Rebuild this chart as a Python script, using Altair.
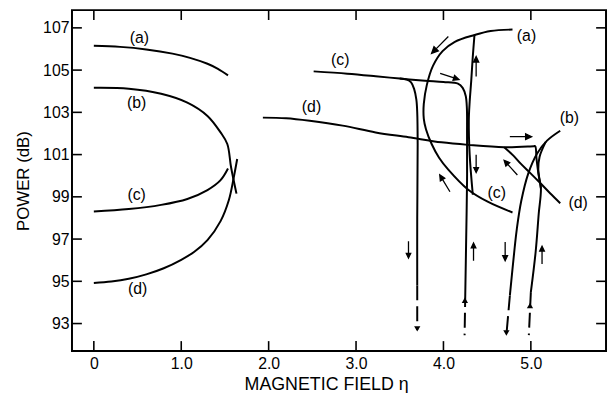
import altair as alt
import pandas as pd

# ---------------- data ----------------
# left-hand branches
A_L_X = [0.0, 0.3, 0.6, 0.9, 1.1, 1.3, 1.42, 1.535]
A_L_Y = [106.15, 106.10, 105.98, 105.78, 105.58, 105.30, 105.06, 104.75]
B_L_X = [0.0, 0.4, 0.77, 1.07, 1.3, 1.45, 1.527, 1.57, 1.632]
B_L_Y = [104.16, 104.12, 103.88, 103.46, 102.83, 102.05, 101.5, 100.4, 99.15]
C_L_X = [0.0, 0.4, 0.77, 1.07, 1.3, 1.45, 1.535]
C_L_Y = [98.31, 98.42, 98.62, 98.90, 99.32, 99.79, 100.34]
D_L_X = [0.0, 0.2, 0.4, 0.6, 0.8, 1.0, 1.15, 1.3, 1.45, 1.545, 1.6, 1.64]
D_L_Y = [94.92, 94.99, 95.12, 95.33, 95.62, 96.02, 96.4, 96.95, 97.85, 98.85, 99.9, 100.79]

# right-hand branches
A_ARC_X = [4.79, 4.54, 4.355, 4.13, 3.99, 3.88, 3.81, 3.775, 3.775, 3.80, 3.865, 3.95, 4.053, 4.28, 4.506, 4.79]
A_ARC_Y = [106.92, 106.85, 106.66, 106.34, 105.90, 105.20, 104.30, 103.40, 102.70, 102.20, 101.50, 100.85, 100.30, 99.35, 98.77, 98.26]
A_DROP_X = [4.355, 4.335, 4.318, 4.30, 4.29, 4.30, 4.336]
A_DROP_Y = [106.66, 105.6, 104.5, 103.5, 102.6, 101.0, 99.1]
C_R_X = [2.515, 2.9, 3.224, 3.5, 3.79, 4.0, 4.166, 4.22, 4.255, 4.268, 4.27, 4.27, 4.26, 4.25]
C_R_Y = [104.94, 104.83, 104.71, 104.6, 104.5, 104.44, 104.36, 104.16, 103.77, 103.2, 102.0, 99.8, 97.0, 94.49]
C_R_DASH_X = [4.25, 4.242]
C_R_DASH_Y = [94.49, 92.45]
C_BR_X = [3.5, 3.58, 3.63, 3.665, 3.69, 3.70, 3.705, 3.70, 3.70]
C_BR_Y = [104.6, 104.55, 104.42, 104.1, 103.6, 103.0, 101.5, 98.0, 94.8]
C_BR_DASH_X = [3.70, 3.70]
C_BR_DASH_Y = [94.8, 92.7]
D_R_X = [1.934, 2.2, 2.47, 2.847, 3.224, 3.6, 3.978, 4.28, 4.695, 5.034, 5.05, 5.065, 5.09, 5.115, 5.09, 5.055, 5.0]
D_R_Y = [102.75, 102.72, 102.6, 102.37, 102.05, 101.82, 101.58, 101.46, 101.35, 101.4, 101.4, 100.8, 100.0, 99.4, 98.2, 96.4, 94.49]
D_R_DASH_X = [5.0, 4.977]
D_R_DASH_Y = [94.49, 92.45]
D_DIAG_X = [4.695, 4.80, 4.884, 5.0, 5.11, 5.22, 5.336]
D_DIAG_Y = [101.35, 100.95, 100.57, 100.1, 99.64, 99.17, 98.7]
B_R_X = [5.336, 5.185, 5.07, 4.97, 4.89, 4.84, 4.815, 4.76]
B_R_Y = [102.13, 101.66, 101.04, 100.1, 98.8, 97.5, 96.6, 94.33]
B_R_DASH_X = [4.76, 4.72]
B_R_DASH_Y = [94.33, 92.45]
B_LOOP_X = [5.17, 5.10, 5.085, 5.10, 5.115]
B_LOOP_Y = [101.6, 100.9, 100.3, 99.8, 99.4]

# direction arrows
ARROW_X = [3.96, 4.07, 4.374, 4.374, 4.016, 4.77, 4.884, 3.60, 4.344, 4.706, 5.128]
ARROW_Y = [106.19, 104.7, 105.17, 100.57, 99.64, 100.38, 101.85, 96.5, 96.39, 96.42, 96.24]
ARROW_ANGLE = [225, 108, 0, 180, 329, 318, 90, 180, 0, 180, 0]
ARROW_LEN = [24, 20, 20, 18, 20, 20, 22, 17, 18, 19, 18]

# arrow heads at the ends of the dashed lines
HEAD_X = [3.70, 4.245, 4.72, 4.99]
HEAD_Y = [92.75, 94.1, 92.55, 93.85]
HEAD_ANGLE = [180, 0, 180, 0]

# curve labels
LABEL_TEXT = ["(a)", "(b)", "(c)", "(d)", "(c)", "(d)", "(a)", "(b)", "(c)", "(d)"]
LABEL_X = [0.52, 0.49, 0.49, 0.50, 2.82, 2.49, 4.95, 5.44, 4.61, 5.54]
LABEL_Y = [106.5, 103.46, 99.09, 94.61, 105.49, 103.25, 106.61, 102.73, 99.17, 98.7]

X_TICKS = [0, 1, 2, 3, 4, 5]
Y_TICKS = [93, 95, 97, 99, 101, 103, 105, 107]
X_DOMAIN = [-0.25, 5.86]
Y_DOMAIN = [91.70, 107.84]

W, H = 540, 344.7
TICK = 10  # inward tick length in pixels

# ---------------- tables ----------------
solid = [
    ("aL", A_L_X, A_L_Y), ("bL", B_L_X, B_L_Y), ("cL", C_L_X, C_L_Y), ("dL", D_L_X, D_L_Y),
    ("aArc", A_ARC_X, A_ARC_Y), ("aDrop", A_DROP_X, A_DROP_Y), ("cR", C_R_X, C_R_Y),
    ("cBr", C_BR_X, C_BR_Y), ("dR", D_R_X, D_R_Y), ("dDiag", D_DIAG_X, D_DIAG_Y),
    ("bR", B_R_X, B_R_Y), ("bLoop", B_LOOP_X, B_LOOP_Y),
]
dashed = [
    ("cRd", C_R_DASH_X, C_R_DASH_Y), ("cBrd", C_BR_DASH_X, C_BR_DASH_Y),
    ("dRd", D_R_DASH_X, D_R_DASH_Y), ("bRd", B_R_DASH_X, B_R_DASH_Y),
]


def table(curves):
    rows = []
    for name, xs, ys in curves:
        for i, (x, y) in enumerate(zip(xs, ys)):
            rows.append({"curve": name, "order": i, "x": x, "y": y})
    return pd.DataFrame(rows)


# frame ticks, built from the tick values and the axis ranges
dx = TICK * (X_DOMAIN[1] - X_DOMAIN[0]) / W
dy = TICK * (Y_DOMAIN[1] - Y_DOMAIN[0]) / H
tick_rows = []
for t in X_TICKS:
    tick_rows += [{"curve": f"b{t}", "order": 0, "x": t, "y": Y_DOMAIN[0]},
                  {"curve": f"b{t}", "order": 1, "x": t, "y": Y_DOMAIN[0] + dy},
                  {"curve": f"t{t}", "order": 0, "x": t, "y": Y_DOMAIN[1]},
                  {"curve": f"t{t}", "order": 1, "x": t, "y": Y_DOMAIN[1] - dy}]
for t in Y_TICKS:
    tick_rows += [{"curve": f"l{t}", "order": 0, "x": X_DOMAIN[0], "y": t},
                  {"curve": f"l{t}", "order": 1, "x": X_DOMAIN[0] + dx, "y": t},
                  {"curve": f"r{t}", "order": 0, "x": X_DOMAIN[1], "y": t},
                  {"curve": f"r{t}", "order": 1, "x": X_DOMAIN[1] - dx, "y": t}]
tick_df = pd.DataFrame(tick_rows)

solid_df = table(solid)
dashed_df = table(dashed)
arrow_df = pd.DataFrame({"x": ARROW_X, "y": ARROW_Y, "angle": ARROW_ANGLE,
                         "size": [l * l for l in ARROW_LEN]})
head_df = pd.DataFrame({"x": HEAD_X, "y": HEAD_Y, "angle": HEAD_ANGLE})
label_df = pd.DataFrame({"x": LABEL_X, "y": LABEL_Y, "t": LABEL_TEXT})

FONT = "Liberation Sans"
xs = alt.Scale(domain=X_DOMAIN, nice=False, zero=False)
ys = alt.Scale(domain=Y_DOMAIN, nice=False, zero=False)

X_AXIS = alt.Axis(orient="bottom", values=X_TICKS,
                  labelExpr="datum.value == 0 ? '0' : format(datum.value, '.1f')",
                  ticks=False, domain=False, grid=False, labelFont=FONT,
                  labelFontSize=16, labelColor="black", labelPadding=5,
                  title="MAGNETIC  FIELD    η", titleFont=FONT, titleFontSize=18,
                  titleFontWeight="normal", titleColor="black", titlePadding=4,
                  titleX=257)
Y_AXIS = alt.Axis(orient="left", values=Y_TICKS, ticks=False,
                  domain=False, grid=False, labelFont=FONT, labelFontSize=16,
                  labelColor="black", labelPadding=3, title="POWER (dB)",
                  titleFont=FONT, titleFontSize=17, titleFontWeight="normal",
                  titleColor="black", titlePadding=10)
X_ENC = alt.X("x:Q", scale=xs, axis=X_AXIS)
Y_ENC = alt.Y("y:Q", scale=ys, axis=Y_AXIS)

frame_ticks = alt.Chart(tick_df).mark_line(color="black", strokeWidth=1.6).encode(
    x=X_ENC, y=Y_ENC, detail="curve:N", order="order:Q")
line_solid = alt.Chart(solid_df).mark_line(color="black", strokeWidth=2,
                                           interpolate="catmull-rom").encode(
    x=X_ENC, y=Y_ENC, detail="curve:N", order="order:Q")
line_dashed = alt.Chart(dashed_df).mark_line(color="black", strokeWidth=2,
                                             strokeDash=[15, 6]).encode(
    x=X_ENC, y=Y_ENC, detail="curve:N", order="order:Q")
ARROW_PATH = "M0,1L0,-0.55M-0.26,-0.45L0,-1L0.26,-0.45Z"
arrows = alt.Chart(arrow_df).mark_point(shape=ARROW_PATH, filled=True, fill="black",
                                        stroke="black", strokeWidth=1.3, opacity=1).encode(
    x=X_ENC, y=Y_ENC,
    angle=alt.Angle("angle:Q", scale=None),
    size=alt.Size("size:Q", scale=None),
)
heads = alt.Chart(head_df).mark_point(shape="triangle-up", filled=True, color="black",
                                      size=40, opacity=1).encode(
    x=X_ENC, y=Y_ENC, angle=alt.Angle("angle:Q", scale=None))
labels = alt.Chart(label_df).mark_text(font=FONT, fontSize=16, color="black",
                                       baseline="middle", align="center").encode(
    x=X_ENC, y=Y_ENC, text="t:N")

chart = alt.layer(frame_ticks, line_solid, line_dashed, arrows, heads, labels).properties(
    width=W, height=H,
    autosize=alt.AutoSizeParams(type="none"),
    padding={"left": 64.7, "top": 0, "right": 2, "bottom": 40},
).configure_view(stroke="black", strokeWidth=2)

chart.save("out.html", embed_options={"renderer": "svg", "actions": False})
